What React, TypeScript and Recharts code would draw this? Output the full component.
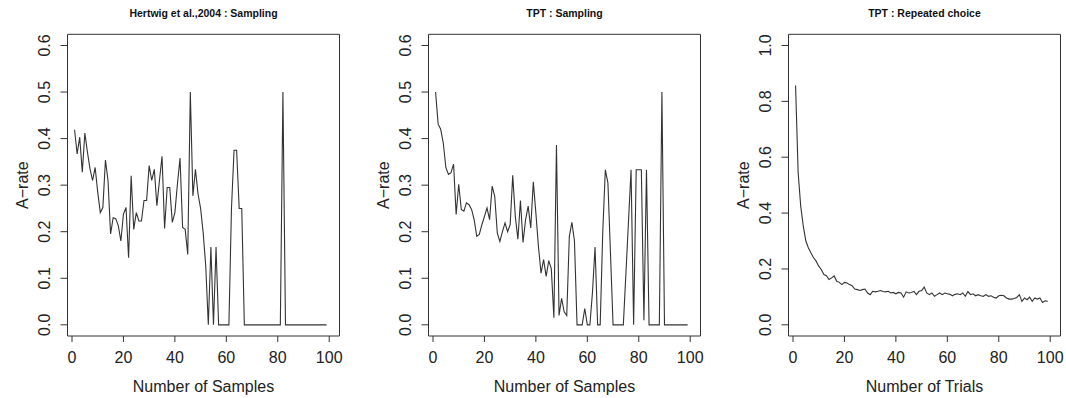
import React from 'react';
import { LineChart, Line, XAxis, YAxis, ReferenceArea } from 'recharts';

const trials = [
  1, 2, 3, 4, 5, 6, 7, 8, 9, 10, 11, 12, 13, 14, 15, 16, 17, 18, 19, 20,
  21, 22, 23, 24, 25, 26, 27, 28, 29, 30, 31, 32, 33, 34, 35, 36, 37, 38, 39, 40,
  41, 42, 43, 44, 45, 46, 47, 48, 49, 50, 51, 52, 53, 54, 55, 56, 57, 58, 59, 60,
  61, 62, 63, 64, 65, 66, 67, 68, 69, 70, 71, 72, 73, 74, 75, 76, 77, 78, 79, 80,
  81, 82, 83, 84, 85, 86, 87, 88, 89, 90, 91, 92, 93, 94, 95, 96, 97, 98, 99,
];

const hertwigSampling = [
  0.419, 0.367, 0.403, 0.328, 0.412, 0.371, 0.335, 0.31, 0.338, 0.285,
  0.241, 0.252, 0.354, 0.31, 0.195, 0.23, 0.228, 0.213, 0.18, 0.238,
  0.252, 0.144, 0.32, 0.205, 0.241, 0.223, 0.223, 0.267, 0.267, 0.342,
  0.31, 0.334, 0.256, 0.31, 0.362, 0.207, 0.295, 0.295, 0.22, 0.241,
  0.303, 0.358, 0.209, 0.205, 0.151, 0.5, 0.277, 0.334, 0.281, 0.25,
  0.198, 0.126, 0, 0.167, 0, 0.167, 0, 0, 0, 0,
  0, 0.25, 0.375, 0.375, 0.25, 0.25, 0, 0, 0, 0,
  0, 0, 0, 0, 0, 0, 0, 0, 0, 0,
  0, 0.5, 0, 0, 0, 0, 0, 0, 0, 0,
  0, 0, 0, 0, 0, 0, 0, 0, 0,
];

const tptSampling = [
  0.5, 0.431, 0.42, 0.39, 0.338, 0.323, 0.327, 0.345, 0.237, 0.302,
  0.248, 0.244, 0.262, 0.258, 0.248, 0.226, 0.19, 0.194, 0.215, 0.233,
  0.251, 0.226, 0.298, 0.276, 0.197, 0.179, 0.2, 0.219, 0.2, 0.215,
  0.321, 0.233, 0.184, 0.267, 0.177, 0.226, 0.255, 0.208, 0.307, 0.24,
  0.168, 0.111, 0.14, 0.104, 0.138, 0.12, 0.015, 0.386, 0.02, 0.057,
  0.028, 0.02, 0.19, 0.22, 0.18, 0, 0, 0, 0.035, 0,
  0, 0.07, 0.167, 0, 0, 0.2, 0.333, 0.305, 0.154, 0,
  0, 0, 0, 0, 0.11, 0.222, 0.333, 0, 0.333, 0.333,
  0.333, 0.01, 0.333, 0, 0, 0, 0, 0, 0.5, 0,
  0, 0, 0, 0, 0, 0, 0, 0, 0,
];

const tptRepeated = [
  0.857, 0.545, 0.425, 0.353, 0.3, 0.275, 0.257, 0.24, 0.228, 0.21,
  0.198, 0.18, 0.176, 0.162, 0.168, 0.175, 0.156, 0.152, 0.144, 0.152,
  0.15, 0.144, 0.14, 0.128, 0.126, 0.123, 0.126, 0.128, 0.114, 0.108,
  0.12, 0.118, 0.12, 0.123, 0.119, 0.118, 0.12, 0.114, 0.116, 0.111,
  0.116, 0.114, 0.099, 0.118, 0.114, 0.116, 0.12, 0.108, 0.12, 0.123,
  0.135, 0.114, 0.108, 0.114, 0.102, 0.108, 0.114, 0.108, 0.114, 0.111,
  0.109, 0.104, 0.109, 0.111, 0.108, 0.114, 0.102, 0.119, 0.108, 0.111,
  0.104, 0.108, 0.104, 0.102, 0.108, 0.102, 0.104, 0.099, 0.096, 0.104,
  0.106, 0.104, 0.096, 0.092, 0.092, 0.094, 0.098, 0.108, 0.084, 0.096,
  0.09, 0.099, 0.084, 0.096, 0.092, 0.096, 0.08, 0.086, 0.084,
];

const xTicks = [0, 20, 40, 60, 80, 100];
const samplingTicks = [0, 0.1, 0.2, 0.3, 0.4, 0.5, 0.6];
const repeatedTicks = [0, 0.2, 0.4, 0.6, 0.8, 1.0];

const titles = ['Hertwig et al.,2004 : Sampling', 'TPT : Sampling', 'TPT : Repeated choice'];
const xTitles = ['Number of Samples', 'Number of Samples', 'Number of Trials'];
const yTitle = 'A\u2212rate';

const FONT = '"Liberation Sans", Arial, Helvetica, sans-serif';
const INK = '#222';
const LINE = '#333';
const H = 398;
const PLOT_LEFT = 67.5;
const PLOT_RIGHT = 339.5;
const PLOT_TOP = 34.3;
const PLOT_BOTTOM = 336;
const X_DOMAIN: [number, number] = [-1.75, 104];

type PanelProps = {
  left: number;
  width: number;
  title: string;
  xTitle: string;
  values: number[];
  yTicks: number[];
  yDomain: [number, number];
};

const XTick = (props: any) => {
  const { x, payload } = props;
  return (
    <text x={x} y={PLOT_BOTTOM + 21} dy="0.35em" textAnchor="middle" fontFamily={FONT} fontSize={16} fill={INK}>
      {String(payload.value)}
    </text>
  );
};

const YTick = (props: any) => {
  const { y, payload } = props;
  const cx = 44;
  return (
    <text
      x={cx}
      y={y}
      dy="0.35em"
      textAnchor="middle"
      transform={`rotate(-90, ${cx}, ${y})`}
      fontFamily={FONT}
      fontSize={16}
      fill={INK}
    >
      {Number(payload.value).toFixed(1)}
    </text>
  );
};

function Panel({ left, width, title, xTitle, values, yTicks, yDomain }: PanelProps) {
  const data = trials.map((t, i) => ({ x: t, y: values[i] }));
  const plotW = PLOT_RIGHT - PLOT_LEFT;
  const cx = PLOT_LEFT + plotW / 2;
  const cy = (PLOT_TOP + PLOT_BOTTOM) / 2;
  return (
    <div style={{ position: 'absolute', left, top: 0, width, height: H }}>
      <div
        style={{
          position: 'absolute',
          left: PLOT_LEFT,
          width: plotW,
          top: 7,
          lineHeight: '12px',
          textAlign: 'center',
          fontFamily: FONT,
          fontWeight: 'bold',
          fontSize: 10.5,
          color: '#111',
          whiteSpace: 'nowrap',
        }}
      >
        {title}
      </div>
      <LineChart
        width={width}
        height={H}
        data={data}
        margin={{ top: PLOT_TOP, right: width - PLOT_RIGHT, bottom: 0, left: 0 }}
      >
        <XAxis
          type="number"
          dataKey="x"
          domain={X_DOMAIN}
          ticks={xTicks}
          interval={0}
          allowDataOverflow
          axisLine={false}
          tickSize={6}
          tickLine={{ stroke: LINE, strokeWidth: 1 }}
          height={H - PLOT_BOTTOM}
          tick={XTick}
          label={{
            content: () => (
              <text x={cx} y={386} dy="0.35em" textAnchor="middle" fontFamily={FONT} fontSize={16} fill={INK}>
                {xTitle}
              </text>
            ),
          }}
        />
        <YAxis
          type="number"
          domain={yDomain}
          ticks={yTicks}
          interval={0}
          allowDataOverflow
          axisLine={false}
          tickSize={7}
          tickLine={{ stroke: LINE, strokeWidth: 1 }}
          width={PLOT_LEFT}
          tick={YTick}
          label={{
            content: () => (
              <text
                x={22}
                y={cy}
                dy="0.35em"
                textAnchor="middle"
                transform={`rotate(-90, 22, ${cy})`}
                fontFamily={FONT}
                fontSize={16}
                fill={INK}
              >
                {yTitle}
              </text>
            ),
          }}
        />
        <ReferenceArea
          x1={X_DOMAIN[0]}
          x2={X_DOMAIN[1]}
          y1={yDomain[0]}
          y2={yDomain[1]}
          fill="none"
          fillOpacity={0}
          stroke={LINE}
          strokeWidth={1}
          ifOverflow="visible"
        />
        <Line
          type="linear"
          dataKey="y"
          stroke={LINE}
          strokeWidth={1.1}
          dot={false}
          activeDot={false}
          isAnimationActive={false}
        />
      </LineChart>
    </div>
  );
}

export default function App() {
  return (
    <div style={{ position: 'absolute', left: 0, top: 0, width: 1066, height: H, background: '#fff', overflow: 'hidden' }}>
      <Panel left={0} width={361} title={titles[0]} xTitle={xTitles[0]} values={hertwigSampling} yTicks={samplingTicks} yDomain={[-0.024, 0.624]} />
      <Panel left={361} width={361} title={titles[1]} xTitle={xTitles[1]} values={tptSampling} yTicks={samplingTicks} yDomain={[-0.024, 0.624]} />
      <Panel left={721} width={345} title={titles[2]} xTitle={xTitles[2]} values={tptRepeated} yTicks={repeatedTicks} yDomain={[-0.04, 1.04]} />
    </div>
  );
}
